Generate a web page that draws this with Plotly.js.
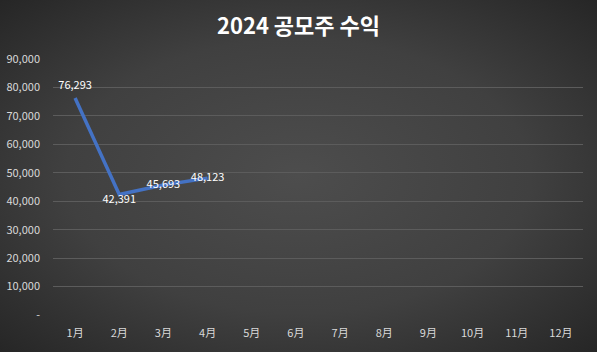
<!DOCTYPE html>
<html><head><meta charset="utf-8">
<script src="https://cdn.plot.ly/plotly-3.0.1.min.js"></script>
<style>
html,body{margin:0;padding:0;}
body{width:597px;height:352px;background:radial-gradient(ellipse at 50% 50%, #4d4d4d 0%, #404040 55%, #262626 100%);}
#chart{width:597px;height:352px;}
</style></head><body>
<div id="chart"></div>
<script>
const months = ["1月","2月","3月","4月","5月","6月","7月","8月","9月","10月","11月","12月"];
const dataMonths = ["1月","2月","3月","4月"];
const profits = [76293, 42391, 45693, 48123];
const labelPositions = ["top center","bottom center","middle center","middle center"];
const yTickVals = [0,10000,20000,30000,40000,50000,60000,70000,80000,90000];
const yTickText = ["-","10,000","20,000","30,000","40,000","50,000","60,000","70,000","80,000","90,000"];
const fmt = v => v.toLocaleString("en-US");

const font = "'Noto Sans CJK KR', 'Noto Sans', sans-serif";
Plotly.newPlot("chart", [
  {x: dataMonths, y: profits, type: "scatter", mode: "lines",
   line: {color: "#4472C4", width: 3.5}, hoverinfo: "skip"},
  {x: dataMonths, y: profits, type: "scatter", mode: "markers+text",
   marker: {size: [9, 0, 0, 0], color: "rgba(0,0,0,0)", line: {width: 0, color: "rgba(0,0,0,0)"}},
   text: profits.map(fmt), textposition: labelPositions,
   textfont: {family: font, size: 11, color: "#ffffff"}, hoverinfo: "skip"}
], {
  width: 597, height: 352,
  paper_bgcolor: "rgba(0,0,0,0)", plot_bgcolor: "rgba(0,0,0,0)",
  showlegend: false,
  margin: {l: 53, r: 14, t: 59, b: 37},
  title: {text: "<b>2024 공모주 수익</b>", x: 0.5, xanchor: "center", y: 0.925, yanchor: "middle",
          font: {family: font, size: 22, color: "#ffffff"}},
  xaxis: {type: "category", categoryorder: "array", categoryarray: months,
          tickvals: months, range: [-0.5, 11.5], showgrid: false, zeroline: false,
          showline: false, ticks: "", ticklabelstandoff: 10,
          tickfont: {family: font, size: 11, color: "#d9d9d9"}},
  yaxis: {range: [0, 90000], tickvals: yTickVals, ticktext: yTickText,
          showgrid: true, gridcolor: "#5c5c5c", gridwidth: 1, zeroline: false,
          showline: false, ticks: "", ticklabelstandoff: 12,
          tickfont: {family: font, size: 11, color: "#d9d9d9"}}
}, {staticPlot: true});
</script>
</body></html>
